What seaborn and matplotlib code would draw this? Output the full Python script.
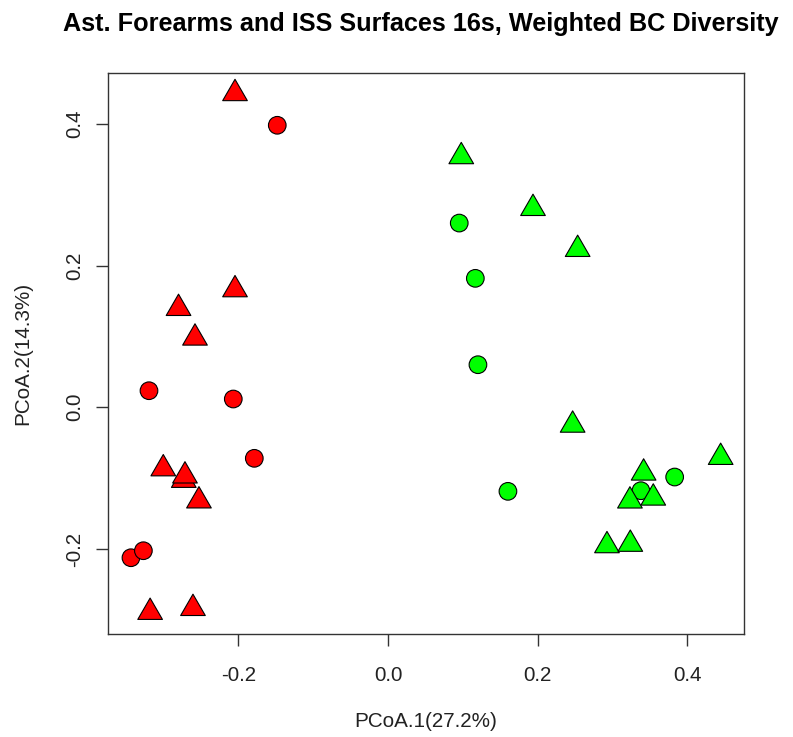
import numpy as np
import pandas as pd
import matplotlib
matplotlib.use("Agg")
import matplotlib.pyplot as plt
from matplotlib.path import Path
import seaborn as sns

# ---- data ----
red_circle_x = [-0.148, -0.3195, -0.2068, -0.1787, -0.3436, -0.327]
red_circle_y = [0.398, 0.0234, 0.0117, -0.072, -0.2123, -0.2024]
red_tri_x = [-0.2045, -0.2045, -0.280, -0.258, -0.3004, -0.273, -0.2714, -0.2527, -0.318, -0.2607]
red_tri_y = [0.4428, 0.166, 0.1396, 0.0978, -0.0867, -0.103, -0.0968, -0.132, -0.2893, -0.2838]
green_circle_x = [0.0953, 0.1168, 0.1203, 0.3833, 0.1604, 0.3382]
green_circle_y = [0.260, 0.182, 0.0601, -0.0984, -0.1186, -0.1177]
green_tri_x = [0.098, 0.1939, 0.2536, 0.2469, 0.4448, 0.3418, 0.3235, 0.3547, 0.2928, 0.324]
green_tri_y = [0.3538, 0.2807, 0.2229, -0.0251, -0.0706, -0.0927, -0.1321, -0.128, -0.1952, -0.1932]

groups = ["Astronaut", "ISS"]
colors = {"Astronaut": "#FF0000", "ISS": "#00FF00"}

title = "Ast. Forearms and ISS Surfaces 16s, Weighted BC Diversity"
xlabel = "PCoA.1(27.2%)"
ylabel = "PCoA.2(14.3%)"
xticks = [-0.2, 0.0, 0.2, 0.4]
yticks = [-0.2, 0.0, 0.2, 0.4]

circles = pd.DataFrame({
    "x": red_circle_x + green_circle_x,
    "y": red_circle_y + green_circle_y,
    "group": ["Astronaut"] * len(red_circle_x) + ["ISS"] * len(green_circle_x),
})
tris = pd.DataFrame({
    "x": red_tri_x + green_tri_x,
    "y": red_tri_y + green_tri_y,
    "group": ["Astronaut"] * len(red_tri_x) + ["ISS"] * len(green_tri_x),
})

sns.set_theme(style="white")
plt.rcParams["font.family"] = ["Liberation Sans", "DejaVu Sans"]

fig = plt.figure(figsize=(7.93, 7.37), dpi=100)
ax = fig.add_axes([108.3 / 793, 1 - 633.7 / 737, (744 - 108.3) / 793, (633.7 - 72.7) / 737])

# R-style triangle (centroid at the data point)
tri_marker = Path([(0, 1), (-0.866, -0.5), (0.866, -0.5), (0, 1)],
                  [Path.MOVETO, Path.LINETO, Path.LINETO, Path.CLOSEPOLY])

sns.scatterplot(data=circles, x="x", y="y", hue="group", palette=colors,
                hue_order=groups, marker="o", s=161, edgecolor="black",
                linewidth=0.8, legend=False, ax=ax, zorder=3)
sns.scatterplot(data=tris, x="x", y="y", hue="group", palette=colors,
                hue_order=groups, marker=tri_marker, s=420, edgecolor="black",
                linewidth=0.8, legend=False, ax=ax, zorder=4)

ax.set_xlim(-0.3739, 0.476)
ax.set_ylim(-0.3195, 0.4722)
ax.set_xticks(xticks)
ax.set_yticks(yticks)
ax.set_xticklabels([f"{v:.1f}" for v in xticks])
ax.set_yticklabels([f"{v:.1f}" for v in yticks])

for sp in ax.spines.values():
    sp.set_color("#333333")
    sp.set_linewidth(1.0)

ax.tick_params(axis="both", which="both", direction="out", length=8.4, width=1.0,
               color="#333333", labelsize=14.9, labelcolor="#222222")
ax.tick_params(axis="x", pad=14.5, bottom=True)
ax.tick_params(axis="y", pad=9, left=True, labelrotation=90)
for lab in ax.get_yticklabels():
    lab.set_va("center")

ax.set_xlabel(xlabel, fontsize=14.9, color="#222222")
ax.set_ylabel(ylabel, fontsize=14.9, color="#222222")
ax.xaxis.set_label_coords(0.5, -0.140)
ax.yaxis.set_label_coords(-0.120, 0.5)

ax.set_title(title, fontsize=18.2, fontweight="bold", pad=30, color="black", x=0.492)

fig.savefig("out.png", dpi=100)
